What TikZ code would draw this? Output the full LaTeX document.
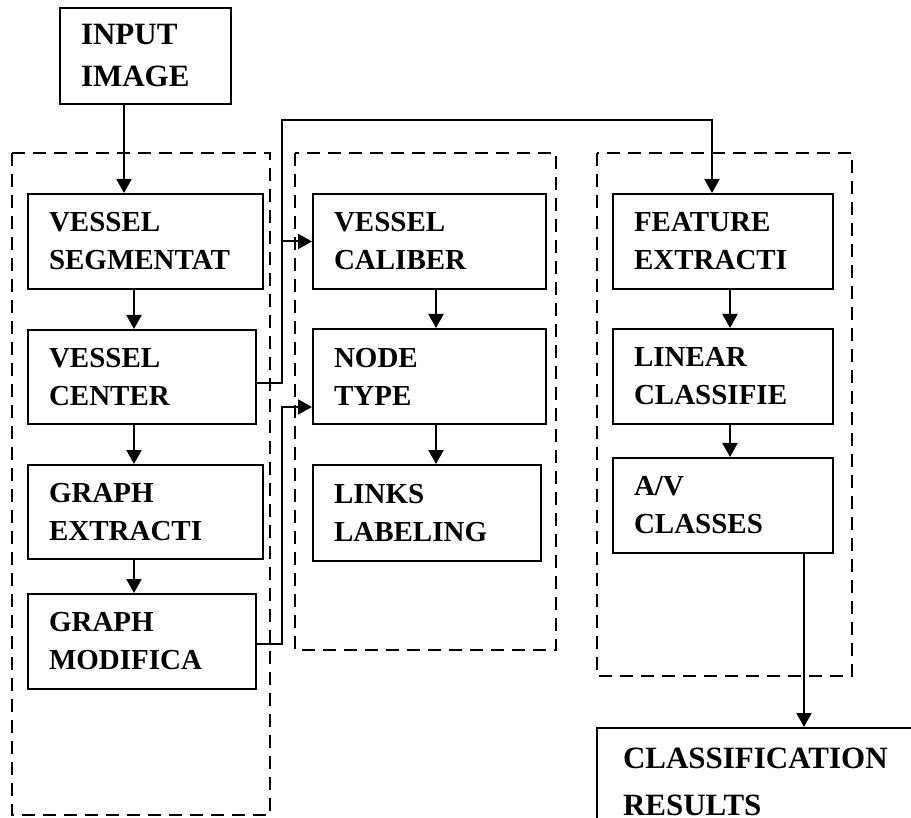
\documentclass[tikz,border=0pt]{standalone}
\usepackage{fontspec}
\setmainfont{Liberation Serif}
\usepackage{tikz}
\usetikzlibrary{arrows.meta, positioning, calc, backgrounds}

\begin{document}
\begin{tikzpicture}[
    x=0.5pt, y=-0.5pt,
    >={Triangle[width=7.5pt, length=7pt]},
    box/.style={draw, line width=1pt, anchor=north west, align=left, inner xsep=10.5pt, inner ysep=0pt, font=\bfseries\fontsize{14.5}{19}\selectfont},
    bigbox/.style={box, font=\bfseries\fontsize{15.5}{21}\selectfont},
    arrow/.style={->, line width=1pt, color=black},
    link/.style={line width=1pt, color=black},
    group/.style={draw, line width=1pt, dash pattern=on 6.5pt off 4pt}
]
\useasboundingbox (0,0) rectangle (911,818);

% === INPUT ===
\node[bigbox, text width=64.5pt, minimum height=48pt] (input) at (59,7) {INPUT\\IMAGE};

% === COLUMN 1: Graph generation ===
\node[box, text width=96.5pt, minimum height=47.5pt] (segment) at (27,193) {VESSEL\\SEGMENTAT};
\node[box, text width=93pt, minimum height=47pt] (center) at (27,329) {VESSEL\\CENTER};
\node[box, text width=96.5pt, minimum height=47pt] (graphext) at (27,464) {GRAPH\\EXTRACTI};
\node[box, text width=93pt, minimum height=47.5pt] (graphmod) at (27,593) {GRAPH\\MODIFICA};

% === COLUMN 2: Graph analysis ===
\node[box, text width=95.5pt, minimum height=47.5pt] (caliber) at (312,193) {VESSEL\\CALIBER};
\node[box, text width=95.5pt, minimum height=47.5pt] (nodetype) at (312,328) {NODE\\TYPE};
\node[box, text width=93pt, minimum height=48pt] (links) at (312,464) {LINKS\\LABELING};

% === COLUMN 3: Classification ===
\node[box, text width=89pt, minimum height=47.5pt] (feature) at (612,193) {FEATURE\\EXTRACTI};
\node[box, text width=89pt, minimum height=47.5pt] (linear) at (612,328) {LINEAR\\CLASSIFIE};
\node[box, text width=89pt, minimum height=47.5pt] (classes) at (612,457) {A/V\\CLASSES};

% === OUTPUT ===
\node[bigbox, inner xsep=13pt, text width=150pt, minimum height=54pt, font=\bfseries\fontsize{15.5}{23.5}\selectfont] (results) at (596,727) {CLASSIFICATION\\RESULTS};

% === ARROWS ===
\coordinate (bend) at (282,120);
\coordinate (ntin) at ([yshift=-15.25pt]nodetype.west);

% Column 1 flow
\draw[arrow] ([xshift=-10.75pt]input.south) -- ([xshift=-10.75pt]input.south |- segment.north);
\draw[arrow] ([xshift=-5.75pt]segment.south) -- ([xshift=-5.75pt]segment.south |- center.north);
\draw[arrow] ([xshift=-4pt]center.south) -- ([xshift=-4pt]center.south |- graphext.north);
\draw[arrow] ([xshift=-5.75pt]graphext.south) -- ([xshift=-5.75pt]graphext.south |- graphmod.north);

% Column 2 flow
\draw[arrow] ([xshift=3.25pt]caliber.south) -- ([xshift=3.25pt]caliber.south |- nodetype.north);
\draw[arrow] ([xshift=3.25pt]nodetype.south) -- ([xshift=3.25pt]nodetype.south |- links.north);

% Column 3 flow
\draw[arrow] ([xshift=3.5pt]feature.south) -- ([xshift=3.5pt]feature.south |- linear.north);
\draw[arrow] ([xshift=3.5pt]linear.south) -- ([xshift=3.5pt]linear.south |- classes.north);
\draw[arrow] ([xshift=40.5pt]classes.south) -- ([xshift=40.5pt]classes.south |- results.north);

% Cross links
\draw[arrow] ([yshift=-3pt]center.east) -| (bend) -| ([xshift=-5.5pt]feature.north);
\draw[arrow] (bend |- caliber.west) -- (caliber.west);
\draw[arrow] ([yshift=-1.25pt]graphmod.east) -| (bend |- ntin) -- (ntin);

% === DASHED GROUPINGS ===
\begin{scope}[on background layer]
    \draw[group] (12,153) rectangle (270,815);
    \draw[group] (295,153) rectangle (556,650);
    \draw[group] (597,153) rectangle (852,676);
\end{scope}

\end{tikzpicture}
\end{document}
